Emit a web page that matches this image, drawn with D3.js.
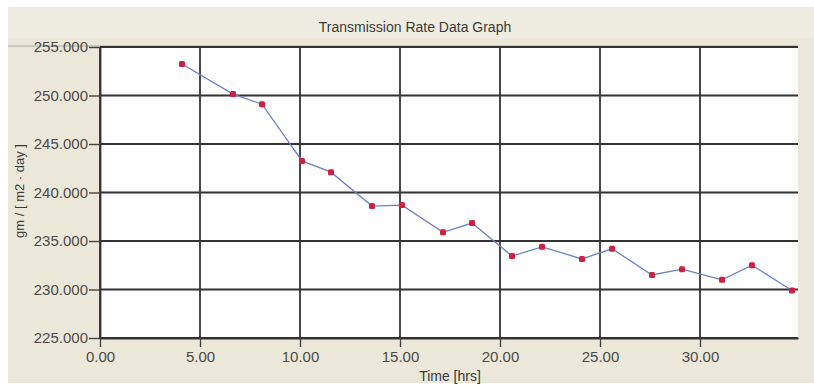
<!DOCTYPE html>
<html>
<head>
<meta charset="utf-8">
<script src="https://cdn.jsdelivr.net/npm/d3@7"></script>
<style>
  body { margin: 0; background: #fff; }
  svg { display: block; font-family: "Liberation Sans", Arial, sans-serif; }
</style>
</head>
<body>
<div id="chart"></div>
<script>
// data
const times = [4.1, 6.65, 8.1, 10.1, 11.55, 13.6, 15.1, 17.15, 18.6, 20.6, 22.1, 24.1, 25.6, 27.6, 29.1, 31.1, 32.6, 34.6];
const rates = [253.25, 250.15, 249.1, 243.25, 242.1, 238.6, 238.7, 235.9, 236.85, 233.45, 234.4, 233.15, 234.2, 231.5, 232.1, 231.0, 232.5, 229.9];
const xTicks = [0, 5, 10, 15, 20, 25, 30];
const yTicks = [225, 230, 235, 240, 245, 250, 255];

const W = 814, H = 385;
const margin = {top: 47, right: 16, bottom: 47, left: 100},
    width = W - margin.left - margin.right,
    height = H - margin.top - margin.bottom;

const svg = d3.select("#chart")
    .append("svg")
    .attr("width", W)
    .attr("height", H);

//window background
svg.append("rect")
    .attr("x", 8).attr("y", 7)
    .attr("width", W - 8).attr("height", H - 9)
    .attr("fill", "#ebe8d9");

svg.append("rect")
    .attr("x", 8).attr("y", 7)
    .attr("width", W - 8).attr("height", 31)
    .attr("fill", "#efede1");

svg.append("line")
    .attr("x1", 8).attr("x2", 798)
    .attr("y1", 46).attr("y2", 46)
    .attr("stroke", "#a9a898");

const g = svg.append("g")
    .attr("transform", `translate(${margin.left},${margin.top})`);

//scales
const x = d3.scaleLinear().domain([0, 34.9]).range([0, width]);
const y = d3.scaleLinear().domain([225, 255]).range([height, 0]);

g.append("rect")
    .attr("width", width).attr("height", height)
    .attr("fill", "#fefefe");

//grid
g.append("g")
    .selectAll("line")
    .data(yTicks)
    .enter()
    .append("line")
    .attr("x1", 0).attr("x2", width)
    .attr("y1", d => y(d)).attr("y2", d => y(d))
    .attr("stroke", "#333")
    .attr("stroke-width", 1.8);

g.append("g")
    .selectAll("line")
    .data(xTicks)
    .enter()
    .append("line")
    .attr("y1", 0).attr("y2", height)
    .attr("x1", d => x(d)).attr("x2", d => x(d))
    .attr("stroke", "#333")
    .attr("stroke-width", 1.8);

//axes
const xAxis = g.append("g")
    .attr("transform", `translate(0,${height})`)
    .call(d3.axisBottom(x).tickValues(xTicks).tickFormat(d3.format(".2f"))
        .tickSize(9).tickPadding(4).tickSizeOuter(0));

const yAxis = g.append("g")
    .call(d3.axisLeft(y).tickValues(yTicks).tickFormat(d3.format(".3f"))
        .tickSize(11).tickPadding(1).tickSizeOuter(0));

[xAxis, yAxis].forEach(a => {
    a.select(".domain").attr("stroke", "#333").attr("stroke-width", 1.8);
    a.selectAll(".tick line").attr("stroke", "#444").attr("stroke-width", 1.4);
    a.selectAll("text").attr("fill", "#4a4a4a").attr("font-size", "15px");
});

//series
g.append("path")
    .datum(times.map((t, i) => [t, rates[i]]))
    .attr("fill", "none")
    .attr("stroke", "#6f80c4")
    .attr("stroke-width", 1.3)
    .attr("d", d3.line().x(d => x(d[0])).y(d => y(d[1])));

g.append("g")
    .selectAll("rect")
    .data(times.map((t, i) => [t, rates[i]]))
    .enter()
    .append("rect")
    .attr("x", d => x(d[0]) - 3)
    .attr("y", d => y(d[1]) - 3)
    .attr("width", 6).attr("height", 6)
    .attr("rx", 1.5)
    .attr("fill", "#cc2142");

//titles
svg.append("text")
    .attr("x", 415).attr("y", 32)
    .attr("text-anchor", "middle")
    .attr("fill", "#3a3a3a")
    .attr("font-size", "14px")
    .text("Transmission Rate Data Graph");

svg.append("text")
    .attr("x", 450).attr("y", 381)
    .attr("text-anchor", "middle")
    .attr("fill", "#3a3a3a")
    .attr("font-size", "14px")
    .text("Time [hrs]");

svg.append("text")
    .attr("transform", "translate(24,191) rotate(-90)")
    .attr("text-anchor", "middle")
    .attr("fill", "#3a3a3a")
    .attr("font-size", "13px")
    .text("gm / [ m2 · day ]");
</script>
</body>
</html>
